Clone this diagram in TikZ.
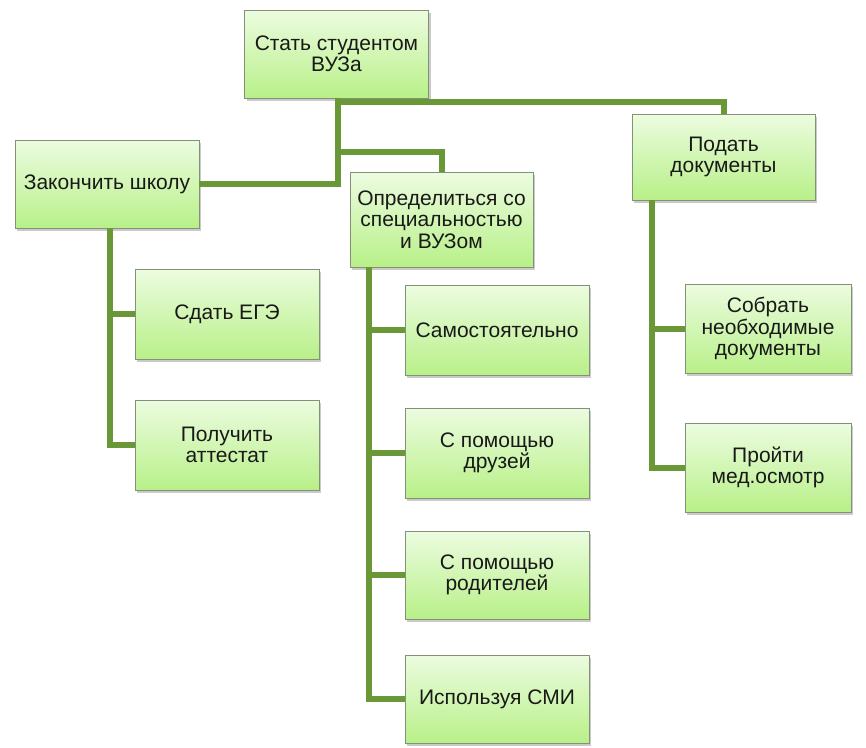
\documentclass[tikz,border=0pt]{standalone}
\usepackage{fontspec}
\setmainfont{Liberation Sans}
\usetikzlibrary{shadows}
\definecolor{conngreen}{RGB}{106,152,54}
\definecolor{boxtop}{RGB}{236,252,224}
\definecolor{boxbot}{RGB}{184,240,136}
\definecolor{boxline}{RGB}{130,145,120}
\definecolor{txt}{RGB}{25,25,25}
\tikzset{
  box/.style={rectangle, draw=boxline, line width=0.8pt, top color=boxtop, bottom color=boxbot,
    minimum width=#1, inner sep=2pt, align=center, text=txt,
    font=\fontsize{21}{21.5}\selectfont,
    drop shadow={shadow xshift=2pt, shadow yshift=-3pt, fill=black!60, opacity=0.35}},
  box/.default=184pt,
  conn/.style={draw=conngreen, line width=6pt, line join=miter}
}
\begin{document}
\begin{tikzpicture}[x=1pt,y=-1pt]
\useasboundingbox (0,0) rectangle (866,747);
\coordinate (j1) at (338,102);
\coordinate (j2) at (338,152);
\coordinate (t0) at (338,98);
\coordinate (l0) at (110,228);
\coordinate (m0) at (369,267);
\coordinate (r0) at (652,200);
% boxes
\node[box, minimum height=88pt] (top) at (336.5,54) {Стать студентом\\ВУЗа};
\node[box, minimum height=88pt] (zak) at (107,184) {Закончить школу};
\node[box=183pt, minimum height=95pt] (opr) at (441.5,219.5) {Определиться со\\специальностью\\и ВУЗом};
\node[box=183pt, minimum height=86pt] (pod) at (723.5,157) {Подать\\документы};
\node[box, minimum height=90pt] (sda) at (227,314) {Сдать ЕГЭ};
\node[box, minimum height=90pt] (pol) at (227,445) {Получить\\аттестат};
\node[box, minimum height=90pt] (sam) at (497,330) {Самостоятельно};
\node[box, minimum height=90pt] (dru) at (497,453) {С помощью\\друзей};
\node[box, minimum height=88pt] (rod) at (497,575) {С помощью\\родителей};
\node[box, minimum height=88pt] (smi) at (497,699) {Используя СМИ};
\node[box=166pt, minimum height=89pt] (sob) at (768,328.5) {Собрать\\необходимые\\документы};
\node[box=166pt, minimum height=89pt] (pro) at (768,467.5) {Пройти\\мед.осмотр};
% connectors
\draw[conn] (t0) |- (zak.east);
\draw[conn] (j1) -| (pod.north);
\draw[conn] (j2) -| (opr.north);
\draw[conn] (l0) |- (sda.west);
\draw[conn] (l0) |- (pol.west);
\draw[conn] (m0) |- (sam.west);
\draw[conn] (m0) |- (dru.west);
\draw[conn] (m0) |- (rod.west);
\draw[conn] (m0) |- (smi.west);
\draw[conn] (r0) |- (sob.west);
\draw[conn] (r0) |- (pro.west);
\end{tikzpicture}
\end{document}
